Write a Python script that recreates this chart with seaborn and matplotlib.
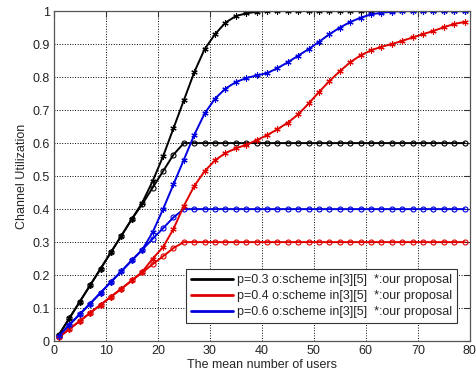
import seaborn as sns
import matplotlib.pyplot as plt
from matplotlib.lines import Line2D

sns.set_style("whitegrid", {"grid.linestyle": ":"})
plt.rcParams['font.family'] = ['Liberation Sans', 'DejaVu Sans']

users = [1, 3, 5, 7, 9, 11, 13, 15, 17, 19, 21, 23, 25, 27, 29, 31, 33, 35, 37, 39,
         41, 43, 45, 47, 49, 51, 53, 55, 57, 59, 61, 63, 65, 67, 69, 71, 73, 75, 77, 79]

# scheme in [3][5]  (o markers)
black_scheme = [0.02, 0.07, 0.12, 0.17, 0.22, 0.27, 0.32, 0.37, 0.415, 0.465, 0.515, 0.565,
                0.6, 0.6, 0.6, 0.6, 0.6, 0.6, 0.6, 0.6, 0.6, 0.6, 0.6, 0.6, 0.6, 0.6, 0.6, 0.6,
                0.6, 0.6, 0.6, 0.6, 0.6, 0.6, 0.6, 0.6, 0.6, 0.6, 0.6, 0.6]
red_scheme = [0.012, 0.037, 0.061, 0.086, 0.11, 0.135, 0.159, 0.184, 0.208, 0.233, 0.257, 0.282,
              0.3, 0.3, 0.3, 0.3, 0.3, 0.3, 0.3, 0.3, 0.3, 0.3, 0.3, 0.3, 0.3, 0.3, 0.3, 0.3,
              0.3, 0.3, 0.3, 0.3, 0.3, 0.3, 0.3, 0.3, 0.3, 0.3, 0.3, 0.3]
blue_scheme = [0.016, 0.05, 0.082, 0.114, 0.147, 0.18, 0.212, 0.245, 0.277, 0.31, 0.342, 0.375,
               0.4, 0.4, 0.4, 0.4, 0.4, 0.4, 0.4, 0.4, 0.4, 0.4, 0.4, 0.4, 0.4, 0.4, 0.4, 0.4,
               0.4, 0.4, 0.4, 0.4, 0.4, 0.4, 0.4, 0.4, 0.4, 0.4, 0.4, 0.4]

# our proposal (* markers)
black_ours = [0.02, 0.07, 0.12, 0.17, 0.22, 0.27, 0.32, 0.37, 0.42, 0.485, 0.56, 0.645,
              0.73, 0.815, 0.885, 0.93, 0.965, 0.985, 0.993, 0.998, 1.0, 1.0, 1.0, 1.0, 1.0,
              1.0, 1.0, 1.0, 1.0, 1.0, 1.0, 1.0, 1.0, 1.0, 1.0, 1.0, 1.0, 1.0, 1.0, 1.0]
red_ours = [0.012, 0.037, 0.061, 0.086, 0.11, 0.135, 0.159, 0.184, 0.21, 0.25, 0.285, 0.34,
            0.41, 0.47, 0.515, 0.548, 0.57, 0.584, 0.595, 0.609, 0.624, 0.642, 0.662, 0.687,
            0.72, 0.755, 0.788, 0.818, 0.845, 0.866, 0.881, 0.892, 0.9, 0.91, 0.92, 0.93,
            0.94, 0.951, 0.961, 0.967]
blue_ours = [0.016, 0.05, 0.082, 0.114, 0.147, 0.18, 0.212, 0.245, 0.277, 0.33, 0.4, 0.475,
             0.55, 0.625, 0.69, 0.735, 0.765, 0.785, 0.797, 0.805, 0.812, 0.827, 0.845, 0.865,
             0.885, 0.907, 0.93, 0.95, 0.967, 0.98, 0.99, 0.995, 0.998, 1.0, 1.0, 1.0, 1.0,
             1.0, 1.0, 1.0]

labels = ["p=0.3 o:scheme in[3][5]  *:our proposal",
          "p=0.4 o:scheme in[3][5]  *:our proposal",
          "p=0.6 o:scheme in[3][5]  *:our proposal"]
colors = ["black", "#e00000", "#0000e0"]

fig = plt.figure(figsize=(4.77, 3.82), dpi=100)
ax = fig.add_axes([0.113, 0.107, 0.872, 0.864])

for ys, c in zip([black_scheme, red_scheme, blue_scheme], colors):
    sns.lineplot(x=users, y=ys, color=c, lw=1.4, marker="o", markersize=3.6,
                 markerfacecolor="none", markeredgecolor=c, markeredgewidth=0.8, ax=ax)
for ys, c in zip([black_ours, red_ours, blue_ours], colors):
    sns.lineplot(x=users, y=ys, color=c, lw=1.4, marker=(6, 2, 0), markersize=4.5,
                 markeredgecolor=c, markeredgewidth=0.8, ax=ax)

ax.set(xlim=(0, 80), ylim=(0, 1))
ax.set_xticks(range(0, 81, 10))
ax.set_yticks([i / 10 for i in range(11)])
ax.set_yticklabels(["0", "0.1", "0.2", "0.3", "0.4", "0.5", "0.6", "0.7", "0.8", "0.9", "1"])
ax.grid(True, color="black", linestyle=":", linewidth=0.7)
ax.tick_params(direction="in", length=4, labelsize=9, top=True, right=True,
               colors="#333333", labelcolor="#222222", pad=3)
for s in ax.spines.values():
    s.set_color("#555555")
    s.set_linewidth(0.9)
ax.set_xlabel("The mean number of users", fontsize=9, labelpad=1)
ax.set_ylabel("Channel Utilization", fontsize=9, labelpad=3)

handles = [Line2D([], [], color=c, lw=2) for c in colors]
leg = ax.legend(handles, labels, loc="lower right", bbox_to_anchor=(0.969, 0.055),
                borderaxespad=0, fontsize=9, handlelength=3.4, fancybox=False,
                framealpha=1, edgecolor="#333333", labelspacing=0.3, handletextpad=0.3,
                borderpad=0.4)
leg.get_frame().set_linewidth(0.8)

plt.savefig("out.png", dpi=100)
